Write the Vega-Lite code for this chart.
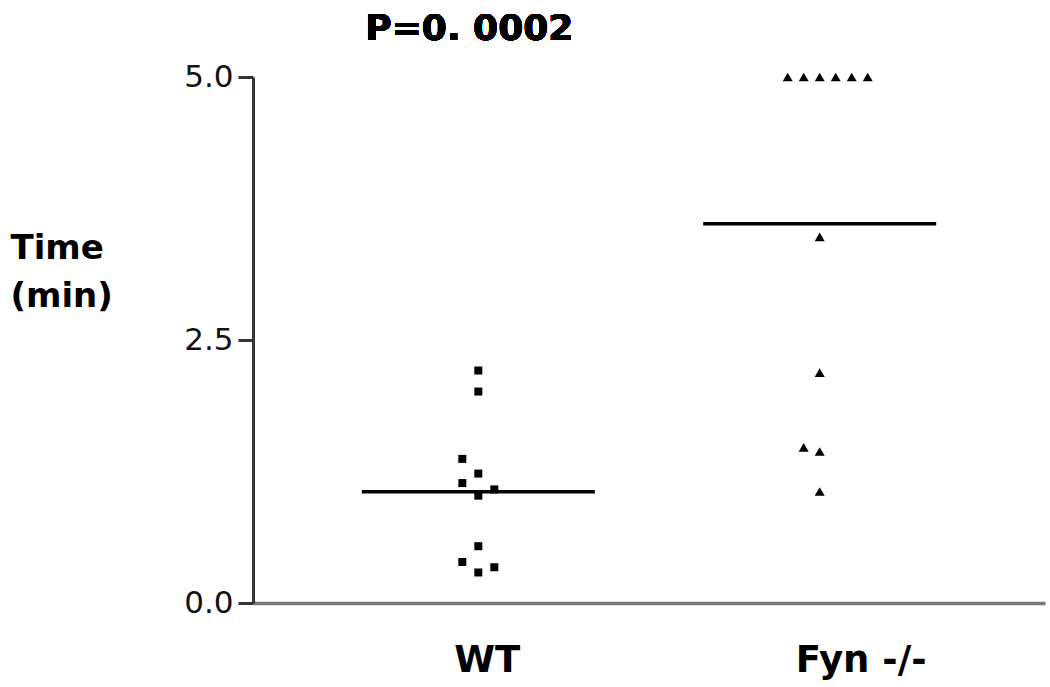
{
  "$schema": "https://vega.github.io/schema/vega-lite/v6.json",
  "width": 792,
  "height": 526,
  "autosize": {"type": "none"},
  "padding": {"left": 253, "top": 77, "right": 5, "bottom": 84},
  "background": "white",
  "config": {"view": {"stroke": null}},
  "data": {
    "values": [
      {"group": "WT", "time": 2.21, "slot": 0},
      {"group": "WT", "time": 2.01, "slot": 0},
      {"group": "WT", "time": 1.37, "slot": -1},
      {"group": "WT", "time": 1.23, "slot": 0},
      {"group": "WT", "time": 1.14, "slot": -1},
      {"group": "WT", "time": 1.08, "slot": 1},
      {"group": "WT", "time": 1.02, "slot": 0},
      {"group": "WT", "time": 0.54, "slot": 0},
      {"group": "WT", "time": 0.39, "slot": -1},
      {"group": "WT", "time": 0.34, "slot": 1},
      {"group": "WT", "time": 0.29, "slot": 0},
      {"group": "Fyn -/-", "time": 5.0, "slot": -2},
      {"group": "Fyn -/-", "time": 5.0, "slot": -1},
      {"group": "Fyn -/-", "time": 5.0, "slot": 0},
      {"group": "Fyn -/-", "time": 5.0, "slot": 1},
      {"group": "Fyn -/-", "time": 5.0, "slot": 2},
      {"group": "Fyn -/-", "time": 5.0, "slot": 3},
      {"group": "Fyn -/-", "time": 3.48, "slot": 0},
      {"group": "Fyn -/-", "time": 2.19, "slot": 0},
      {"group": "Fyn -/-", "time": 1.48, "slot": -1},
      {"group": "Fyn -/-", "time": 1.44, "slot": 0},
      {"group": "Fyn -/-", "time": 1.06, "slot": 0}
    ]
  },
  "encoding": {
    "x": {
      "field": "group",
      "type": "nominal",
      "sort": ["WT", "Fyn -/-"],
      "scale": {"paddingInner": 0, "paddingOuter": 0.16},
      "axis": {
        "title": null,
        "labelAngle": 0,
        "ticks": false,
        "tickSize": 0,
        "labelAlign": "left",
        "labelOffset": -24,
        "labelBaseline": "alphabetic",
        "labelPadding": 68,
        "labelFont": "DejaVu Sans",
        "labelFontSize": 37,
        "labelFontWeight": "bold",
        "labelColor": "#000",
        "domainColor": "#777",
        "domainWidth": 3.5,
        "grid": false
      }
    }
  },
  "layer": [
    {
      "mark": {"type": "point", "filled": true, "color": "#000", "opacity": 1},
      "encoding": {
        "xOffset": {"field": "slot", "type": "quantitative", "scale": {"domain": [-10.67, 10.67]}},
        "y": {
          "field": "time",
          "type": "quantitative",
          "scale": {"domain": [0, 5], "nice": false},
          "axis": {
            "values": [0, 2.5, 5],
            "format": ".1f",
            "grid": false,
            "tickSize": 15,
            "tickWidth": 3,
            "tickColor": "#333",
            "domainColor": "#333",
            "domainWidth": 3,
            "labelPadding": 5,
            "labelFont": "DejaVu Sans",
            "labelFontSize": 31,
            "labelColor": "#111",
            "title": ["Time", "(min)"],
            "titleAngle": 0,
            "titleAlign": "left",
            "titleBaseline": "alphabetic",
            "titleX": -243,
            "titleY": 181,
            "titleLineHeight": 48,
            "titleFont": "DejaVu Sans",
            "titleFontSize": 34,
            "titleFontWeight": "bold",
            "titleColor": "#000"
          }
        },
        "shape": {
          "field": "group",
          "type": "nominal",
          "scale": {"domain": ["WT", "Fyn -/-"], "range": ["square", "triangle-up"]},
          "legend": null
        },
        "size": {
          "field": "group",
          "type": "nominal",
          "scale": {"domain": ["WT", "Fyn -/-"], "range": [64, 100]},
          "legend": null
        }
      }
    },
    {
      "mark": {"type": "tick", "color": "#000", "size": 233, "thickness": 3.5, "opacity": 1},
      "encoding": {
        "y": {"aggregate": "mean", "field": "time", "type": "quantitative"}
      }
    },
    {
      "mark": {
        "type": "text",
        "text": "P=0. 0002",
        "font": "DejaVu Sans",
        "fontSize": 36,
        "fontWeight": "bold",
        "color": "#000",
        "align": "center",
        "baseline": "alphabetic",
        "dx": -9,
        "dy": -37
      },
      "encoding": {
        "x": {"datum": "WT"},
        "y": {"datum": 5}
      }
    }
  ]
}
